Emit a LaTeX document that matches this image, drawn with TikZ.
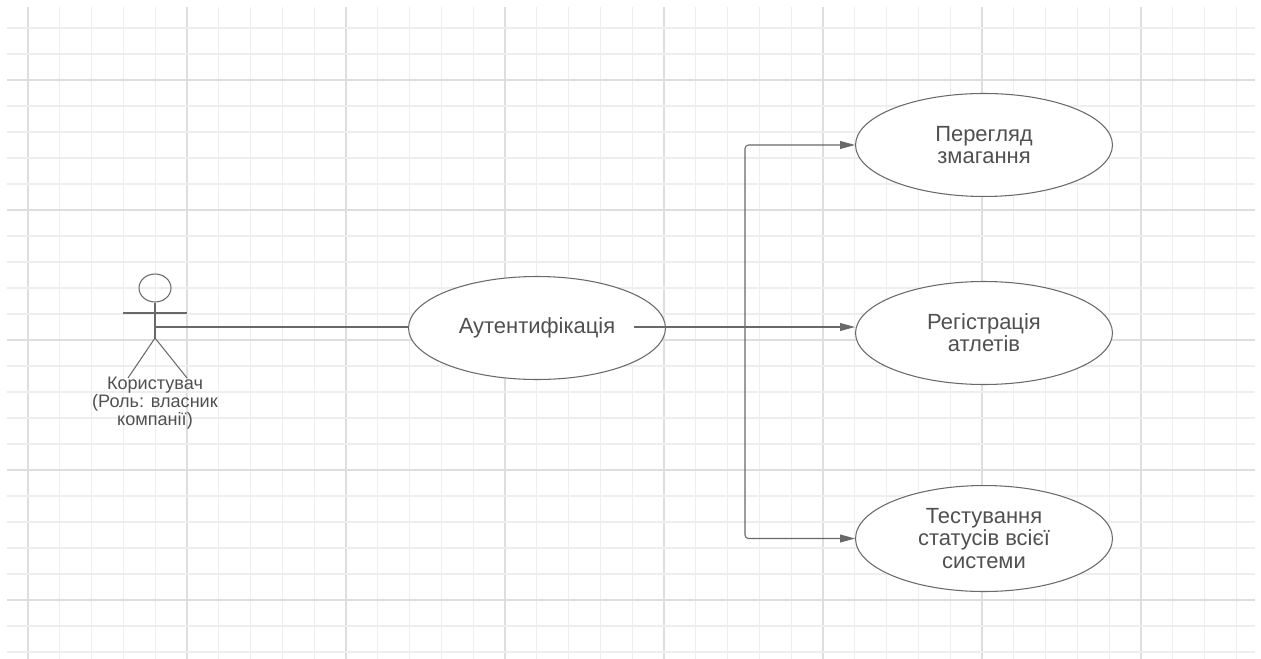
\documentclass[tikz,border=0pt]{standalone}
\usepackage{fontspec}
\setmainfont{Liberation Sans}
\usetikzlibrary{arrows.meta, positioning, shapes.geometric, calc}
\definecolor{gridLight}{RGB}{238,238,238}
\definecolor{gridDark}{RGB}{222,222,222}
\definecolor{umlEdge}{RGB}{105,105,105}
\definecolor{umlText}{RGB}{80,80,80}

\begin{document}
\begin{tikzpicture}[
    x=0.02cm, y=-0.02cm,
    usecase/.style={ellipse, draw=umlEdge, semithick, fill=white, minimum width=5.14cm, minimum height=2.06cm, inner sep=0pt, align=center, text=umlText, font=\fontsize{12.5}{12.6}\selectfont},
    actorpart/.style={draw=umlEdge, semithick},
    link/.style={semithick, umlEdge},
    arrow/.style={-{Triangle[length=8.5pt, width=4.5pt]}, semithick, umlEdge, rounded corners=2pt},
    lbl/.style={align=center, text=umlText, inner sep=0pt, font=\fontsize{10.3}{10.4}\selectfont}
]
\useasboundingbox (0,0) rectangle (1261,659);

% --- Background grid ---
\foreach \k in {0,...,38}
    \draw[gridLight, line width=0.7pt] ({28+31.8*\k},7) -- ({28+31.8*\k},659);
\foreach \k in {0,5,...,35}
    \draw[gridDark, line width=0.8pt] ({28+31.8*\k},7) -- ({28+31.8*\k},659);
\foreach \k in {0,...,24}
    \draw[gridLight, line width=0.7pt] (7,{28+26*\k}) -- (1255,{28+26*\k});
\foreach \k in {2,7,...,22}
    \draw[gridDark, line width=0.8pt] (7,{28+26*\k}) -- (1255,{28+26*\k});

% --- Actor (left) ---
\node[ellipse, draw=umlEdge, semithick, minimum width=0.64cm, minimum height=0.56cm, inner sep=0pt] (head) at (155,288) {};
\coordinate (hip) at (155,338);
\coordinate (actor) at (155,327);
\draw[actorpart] (head.south) -- (hip);
\draw[actorpart] (123,313) -- (187,313);
\draw[actorpart] (128,378) -- (hip) -- (187,378);
\node[lbl] (actorlbl) at (155,403) {Користувач\\(Роль: власник\\компанії)};

% --- Central use case ---
\node[usecase] (auth) at (537,328) {Аутентифікація};

% --- Right column ---
\node[usecase] (reg) at (984,333) {Регістрація\\атлетів};
\node[usecase, above=1.68cm of reg] (view) {Перегляд\\змагання};
\node[usecase, minimum height=2.12cm, below=2cm of reg] (test) {Тестування\\статусів всієї\\системи};

% === Connectors ===
\draw[link] (actor) -- (actor -| auth.west);

\coordinate (split) at (745,327);
\draw[link] ($(auth.east)+(-32,-1)$) -- (split);
\draw[arrow] (split) -- (split -| reg.west);
\draw[arrow] (split) |- (view);
\draw[arrow] (split) |- (test);

\end{tikzpicture}
\end{document}
